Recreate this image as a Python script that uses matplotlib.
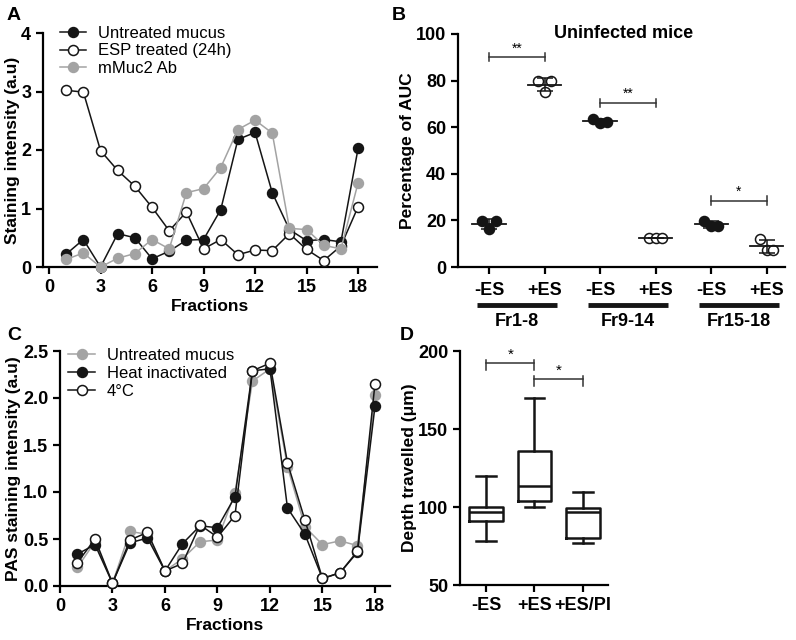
import numpy as np
import matplotlib
matplotlib.use('Agg')
import matplotlib.pyplot as plt

plt.rcParams['font.family'] = ['Liberation Sans', 'DejaVu Sans']

# ---- panel A data ----
fractions = np.arange(1, 19)
a_untreated = [0.22, 0.47, 0.0, 0.57, 0.50, 0.14, 0.27, 0.46, 0.47, 0.98,
               2.18, 2.30, 1.27, 0.64, 0.45, 0.47, 0.43, 2.03]
a_esp = [3.02, 2.99, 1.99, 1.65, 1.38, 1.02, 0.62, 0.94, 0.31, 0.47,
         0.21, 0.29, 0.28, 0.57, 0.30, 0.11, 0.36, 1.03]
a_muc2 = [0.13, 0.24, 0.0, 0.15, 0.23, 0.47, 0.31, 1.27, 1.34, 1.70,
          2.35, 2.51, 2.29, 0.66, 0.64, 0.37, 0.31, 1.44]

# ---- panel B data ----
b_ticklabels = ['-ES', '+ES', '-ES', '+ES', '-ES', '+ES']
b_groups = ['Fr1-8', 'Fr9-14', 'Fr15-18']
b_values = [[19.8, 16.1, 19.7],
            [79.9, 74.9, 79.9],
            [63.6, 62.0, 62.4],
            [12.3, 12.3, 12.3],
            [19.8, 17.5, 17.5],
            [12.2, 7.2, 7.2]]
b_filled = [True, False, True, False, True, False]
b_sig = [(0, 1, 90, '**'), (2, 3, 70.5, '**'), (4, 5, 28.5, '*')]

# ---- panel C data ----
c_untreated = [0.20, 0.47, 0.03, 0.58, 0.55, 0.16, 0.29, 0.47, 0.49, 0.99,
               2.18, 2.31, 1.27, 0.63, 0.44, 0.48, 0.43, 2.03]
c_heat = [0.34, 0.44, 0.03, 0.46, 0.51, 0.16, 0.45, 0.64, 0.62, 0.95,
          2.29, 2.31, 0.83, 0.55, 0.08, 0.14, 0.36, 1.91]
c_cold = [0.25, 0.50, 0.03, 0.49, 0.57, 0.16, 0.24, 0.65, 0.52, 0.75,
          2.29, 2.37, 1.31, 0.70, 0.08, 0.14, 0.37, 2.15]

# ---- panel D data ----
d_labels = ['-ES', '+ES', '+ES/PI']
d_whislo = [78.2, 99.7, 77.1]
d_q1 = [91.0, 103.8, 79.9]
d_med = [96.9, 113.4, 96.5]
d_q3 = [99.7, 135.8, 99.1]
d_whishi = [120.0, 169.7, 109.7]
d_sig = [(1, 2, 192.3, '*'), (2, 3, 182.1, '*')]

W, H = 796, 640
fig = plt.figure(figsize=(W / 100, H / 100), dpi=100)

BLACK = '#151515'
GRAY = '#a3a3a3'
LW = 1.6


def px_axes(left, top, right, bottom):
    return fig.add_axes([left / W, 1 - bottom / H, (right - left) / W, (bottom - top) / H])


def style(ax):
    for s in ['top', 'right']:
        ax.spines[s].set_visible(False)
    for s in ['left', 'bottom']:
        ax.spines[s].set_linewidth(LW)
    ax.tick_params(width=LW, length=5, labelsize=13, direction='out')
    for t in ax.get_xticklabels() + ax.get_yticklabels():
        t.set_fontweight('bold')


# ================= A =================
axA = px_axes(43, 33, 377, 267)
axA.plot(fractions, a_untreated, '-o', color=BLACK, lw=1.1, ms=7.2, mfc=BLACK, mec=BLACK,
         clip_on=False, label='Untreated mucus', zorder=3)
axA.plot(fractions, a_esp, '-o', color=BLACK, lw=1.1, ms=7.2, mfc='white', mec=BLACK, mew=1.1,
         clip_on=False, label='ESP treated (24h)', zorder=3)
axA.plot(fractions, a_muc2, '-o', color=GRAY, lw=1.1, ms=7.2, mfc=GRAY, mec=GRAY,
         clip_on=False, label='mMuc2 Ab', zorder=4)
axA.set_xlim(-0.35, 19.1)
axA.set_ylim(0, 4)
axA.set_xticks(range(0, 19, 3))
axA.set_yticks(range(0, 5))
axA.set_xlabel('Fractions', fontsize=12.5, fontweight='bold', labelpad=2)
axA.set_ylabel('Staining intensity (a.u)', fontsize=12.5, fontweight='bold', labelpad=1)
style(axA)
axA.legend(loc='upper left', bbox_to_anchor=(0.03, 1.06), frameon=False, fontsize=12,
           handlelength=1.6, handletextpad=0.7, labelspacing=0.17, borderaxespad=0)
fig.text(7 / W, 1 - 15 / H, 'A', fontsize=14, fontweight='bold', va='center')

# ================= B =================
axB = px_axes(458, 34, 785, 267)
xb = np.arange(len(b_values))
offsets = [-0.12, 0.0, 0.12]
for i, vals in enumerate(b_values):
    vals = np.array(vals)
    m, sd = vals.mean(), vals.std(ddof=1)
    fc = BLACK if b_filled[i] else 'white'
    axB.scatter(xb[i] + np.array(offsets), vals, s=52, facecolor=fc, edgecolor=BLACK,
                linewidth=1.1, zorder=3, clip_on=False)
    axB.plot([xb[i] - 0.3, xb[i] + 0.3], [m, m], color=BLACK, lw=1.3, zorder=4)
    axB.errorbar(xb[i], m, yerr=sd, color=BLACK, lw=1.1, capsize=6, capthick=1.1, zorder=4)
for x0, x1, y, lab in b_sig:
    axB.plot([x0, x1], [y, y], color='#333333', lw=1.1)
    axB.plot([x0, x0], [y - 1.8, y + 1.8], color='#333333', lw=1.1)
    axB.plot([x1, x1], [y - 1.8, y + 1.8], color='#333333', lw=1.1)
    axB.text((x0 + x1) / 2, y + 0.8, lab, ha='center', va='bottom', fontsize=10)
axB.set_xlim(-0.56, 5.33)
axB.set_ylim(0, 100)
axB.set_xticks(xb)
axB.set_xticklabels(b_ticklabels)
axB.set_yticks(range(0, 101, 20))
axB.set_ylabel('Percentage of AUC', fontsize=12.5, fontweight='bold', labelpad=1)
axB.text(0.505, 1.0, 'Uninfected mice', transform=axB.transAxes, ha='center', va='center',
         fontsize=13, fontweight='bold')
style(axB)
axB.tick_params(axis='x', labelsize=13, pad=6)
tr = axB.get_xaxis_transform()
for g, name in enumerate(b_groups):
    c = 2 * g + 0.5
    axB.plot([c - 0.72, c + 0.72], [-0.163, -0.163], color=BLACK, lw=3.5, transform=tr,
             clip_on=False, solid_capstyle='butt')
    axB.text(c, -0.235, name, transform=tr, ha='center', va='center', fontsize=13,
             fontweight='bold')
fig.text(392 / W, 1 - 15 / H, 'B', fontsize=14, fontweight='bold', va='center')

# ================= C =================
axC = px_axes(60, 351, 390, 586)
axC.plot(fractions, c_untreated, '-o', color=GRAY, lw=1.1, ms=7.2, mfc=GRAY, mec=GRAY,
         clip_on=False, label='Untreated mucus', zorder=3)
axC.plot(fractions, c_heat, '-o', color=BLACK, lw=1.1, ms=7.2, mfc=BLACK, mec=BLACK,
         clip_on=False, label='Heat inactivated', zorder=4)
axC.plot(fractions, c_cold, '-o', color=BLACK, lw=1.1, ms=7.2, mfc='white', mec=BLACK, mew=1.1,
         clip_on=False, label='4\u00b0C', zorder=5)
axC.set_xlim(0, 18.86)
axC.set_ylim(0, 2.5)
axC.set_xticks(range(0, 19, 3))
axC.set_yticks(np.arange(0, 2.51, 0.5))
axC.set_yticklabels(['0.0', '0.5', '1.0', '1.5', '2.0', '2.5'])
axC.set_xlabel('Fractions', fontsize=12.5, fontweight='bold', labelpad=2)
axC.set_ylabel('PAS staining intensity (a.u)', fontsize=12.5, fontweight='bold', labelpad=1)
style(axC)
axC.legend(loc='upper left', bbox_to_anchor=(0.005, 1.04), frameon=False, fontsize=12,
           handlelength=1.6, handletextpad=0.7, labelspacing=0.17, borderaxespad=0)
fig.text(7 / W, 1 - 335 / H, 'C', fontsize=14, fontweight='bold', va='center')

# ================= D =================
axD = px_axes(460, 351, 608, 585)
stats = [dict(whislo=d_whislo[i], q1=d_q1[i], med=d_med[i], q3=d_q3[i],
              whishi=d_whishi[i], fliers=[], label=d_labels[i]) for i in range(3)]
axD.bxp(stats, positions=[1, 2, 3], widths=0.7, capwidths=0.4, showfliers=False,
        boxprops=dict(color=BLACK, lw=1.8), medianprops=dict(color=BLACK, lw=1.8),
        whiskerprops=dict(color=BLACK, lw=1.8), capprops=dict(color=BLACK, lw=1.8))
for x0, x1, y, lab in d_sig:
    axD.plot([x0, x1], [y, y], color='#333333', lw=1.1)
    axD.plot([x0, x0], [y - 4.5, y + 2], color='#333333', lw=1.1)
    axD.plot([x1, x1], [y - 4.5, y + 2], color='#333333', lw=1.1)
    axD.text((x0 + x1) / 2, y + 0.5, lab, ha='center', va='bottom', fontsize=11)
axD.set_xlim(0.46, 3.52)
axD.set_ylim(50, 200)
axD.set_yticks(range(50, 201, 50))
axD.set_ylabel('Depth travelled (\u03bcm)', fontsize=12.5, fontweight='bold', labelpad=1)
style(axD)
fig.text(400 / W, 1 - 335 / H, 'D', fontsize=14, fontweight='bold', va='center')

fig.savefig('out.png', dpi=100)
